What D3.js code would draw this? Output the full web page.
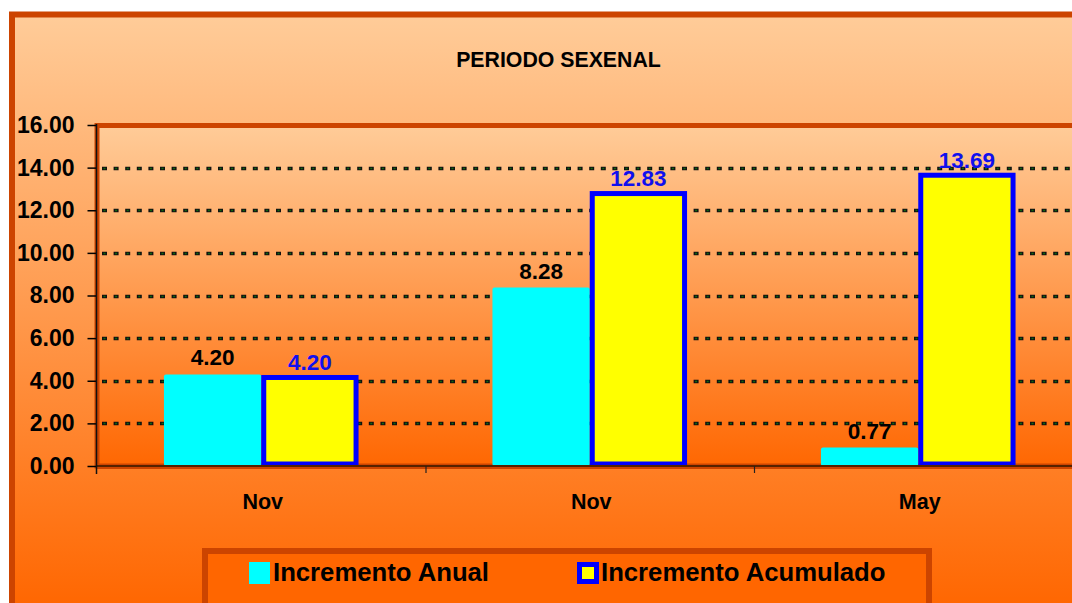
<!DOCTYPE html>
<html>
<head>
<meta charset="utf-8">
<script src="https://cdn.jsdelivr.net/npm/d3@7"></script>
<style>
  body { margin: 0; background: #fff; }
  svg { display: block; font-family: "Liberation Sans", Arial, sans-serif; }
</style>
</head>
<body>
<div id="chart"></div>
<script>
// data
var categories = ["Nov", "Nov", "May"];
var series = ["Incremento Anual", "Incremento Acumulado"];
var anual = [4.20, 8.28, 0.77];
var acumulado = [4.20, 12.83, 13.69];
var yTicks = [0, 2, 4, 6, 8, 10, 12, 14, 16];

var width = 1072,
    height = 603;

var svg = d3.select("#chart").append("svg")
    .attr("width", width)
    .attr("height", height);

var defs = svg.append("defs");

function addGradient(id, y1, y2) {
  var g = defs.append("linearGradient")
      .attr("id", id)
      .attr("gradientUnits", "userSpaceOnUse")
      .attr("x1", 0).attr("x2", 0)
      .attr("y1", y1).attr("y2", y2);
  g.append("stop").attr("offset", "0%").attr("stop-color", "#ffcc99");
  g.append("stop").attr("offset", "100%").attr("stop-color", "#ff6600");
}
addGradient("outerGrad", 15, 610);
addGradient("plotGrad", 125, 470);

// outer chart area
svg.append("rect")
    .attr("x", 12).attr("y", 14.5)
    .attr("width", 1120).attr("height", 640)
    .attr("fill", "url(#outerGrad)")
    .attr("stroke", "#cc4400")
    .attr("stroke-width", 6);

svg.append("text")
    .attr("x", 558.5).attr("y", 67)
    .attr("text-anchor", "middle")
    .attr("font-size", "21.3px")
    .attr("font-weight", "bold")
    .text("PERIODO SEXENAL");

// scales
var x0 = 97, bandW = 328.5;
var y = d3.scaleLinear().domain([0, 16]).range([466, 125]);

var x = d3.scaleBand()
    .domain(d3.range(categories.length))
    .range([x0, x0 + bandW * categories.length])
    .paddingInner(0).paddingOuter(0);

var xs = d3.scaleBand()
    .domain([0, 1])
    .range([0, x.bandwidth()])
    .paddingInner(0).paddingOuter(0.688);

// plot area
svg.append("rect")
    .attr("x", x0).attr("y", 125.5)
    .attr("width", 1100).attr("height", 340.5)
    .attr("fill", "url(#plotGrad)")
    .attr("stroke", "#cc4400")
    .attr("stroke-width", 5);

// dotted grid lines
var gridVals = yTicks.filter(function(d) { return d > 0 && d < 16; });
var grid = svg.append("g");
grid.selectAll(".gl")
    .data(gridVals)
    .enter().append("line")
    .attr("x1", 102).attr("x2", width)
    .attr("y1", function(d) { return Math.round(y(d)) + 0.5; })
    .attr("y2", function(d) { return Math.round(y(d)) + 0.5; })
    .attr("stroke", "#111")
    .attr("stroke-width", 3.5)
    .attr("stroke-dasharray", "5 6.6");
grid.selectAll(".gl2")
    .data(gridVals)
    .enter().append("line")
    .attr("x1", 103.5).attr("x2", width)
    .attr("y1", function(d) { return Math.round(y(d)) + 0.5; })
    .attr("y2", function(d) { return Math.round(y(d)) + 0.5; })
    .attr("stroke", "#0f6a0f")
    .attr("stroke-width", 1.3)
    .attr("stroke-dasharray", "2 9.6");

// bars
var groups = svg.selectAll(".grp")
    .data(categories)
    .enter().append("g")
    .attr("transform", function(d, i) { return "translate(" + x(i) + ",0)"; });

groups.append("rect")
    .attr("x", xs(0))
    .attr("width", xs.bandwidth())
    .attr("y", function(d, i) { return y(anual[i]) - 2; })
    .attr("height", function(d, i) { return 466 - y(anual[i]) + 2; })
    .attr("rx", 2)
    .attr("fill", "#00ffff");

groups.append("rect")
    .attr("x", xs(1) + 2.5)
    .attr("width", xs.bandwidth() - 5)
    .attr("y", function(d, i) { return y(acumulado[i]) + 1; })
    .attr("height", function(d, i) { return 464 - y(acumulado[i]) - 1; })
    .attr("fill", "#ffff00")
    .attr("stroke", "#0000ff")
    .attr("stroke-width", 5);

// value labels
groups.append("text")
    .attr("x", xs(0) + xs.bandwidth() / 2)
    .attr("y", function(d, i) { return y(anual[i]) - 11; })
    .attr("text-anchor", "middle")
    .attr("font-size", "22.5px")
    .attr("font-weight", "bold")
    .attr("fill", "#000")
    .text(function(d, i) { return anual[i].toFixed(2); });

groups.append("text")
    .attr("x", xs(1) + xs.bandwidth() / 2)
    .attr("y", function(d, i) { return y(acumulado[i]) - 6.5; })
    .attr("text-anchor", "middle")
    .attr("font-size", "22.5px")
    .attr("font-weight", "bold")
    .attr("fill", "#1010ee")
    .text(function(d, i) { return acumulado[i].toFixed(2); });

// baseline
svg.append("line")
    .attr("x1", x0).attr("x2", width)
    .attr("y1", 468).attr("y2", 468)
    .attr("stroke", "#cc4400").attr("stroke-width", 2);
svg.append("line")
    .attr("x1", x0).attr("x2", width)
    .attr("y1", 466).attr("y2", 466)
    .attr("stroke", "#552200").attr("stroke-width", 2);

// category ticks
svg.selectAll(".ct")
    .data(d3.range(1, categories.length))
    .enter().append("line")
    .attr("x1", function(d) { return x(d) + 0.5; })
    .attr("x2", function(d) { return x(d) + 0.5; })
    .attr("y1", 466).attr("y2", 473)
    .attr("stroke", "#222").attr("stroke-width", 1.2);

// y axis
var yAxis = d3.axisLeft(y)
    .tickValues(yTicks)
    .tickSize(9)
    .tickPadding(13)
    .tickFormat(d3.format(".2f"));

var ya = svg.append("g")
    .attr("transform", "translate(96.5,0)")
    .call(yAxis);
ya.select(".domain").remove();
ya.selectAll(".tick line").attr("stroke", "#000").attr("stroke-width", 1.5);
ya.selectAll(".tick text")
    .attr("font-family", "'Liberation Sans', Arial, sans-serif")
    .attr("font-size", "23px")
    .attr("font-weight", "bold")
    .attr("fill", "#000");
svg.append("line")
    .attr("x1", 96.5).attr("x2", 96.5)
    .attr("y1", 124).attr("y2", 474)
    .attr("stroke", "#111").attr("stroke-width", 1.5);

// category labels
svg.selectAll(".cl")
    .data(categories)
    .enter().append("text")
    .attr("x", function(d, i) { return x(i) + x.bandwidth() / 2 + 1.5; })
    .attr("y", 509)
    .attr("text-anchor", "middle")
    .attr("font-size", "21.5px")
    .attr("font-weight", "bold")
    .text(function(d) { return d; });

// legend
var legend = svg.append("g");
legend.append("rect")
    .attr("x", 205).attr("y", 551)
    .attr("width", 724).attr("height", 80)
    .attr("fill", "#ff6600")
    .attr("stroke", "#cc4400")
    .attr("stroke-width", 6);

var legX = [249, 577];
legend.append("rect")
    .attr("x", legX[0]).attr("y", 562)
    .attr("width", 21).attr("height", 22)
    .attr("fill", "#00ffff");
legend.append("rect")
    .attr("x", legX[1] + 2.5).attr("y", 564.5)
    .attr("width", 17).attr("height", 17)
    .attr("fill", "#ffff00")
    .attr("stroke", "#0000ff")
    .attr("stroke-width", 5);

legend.selectAll(".lt")
    .data(series)
    .enter().append("text")
    .attr("x", function(d, i) { return legX[i] + 24; })
    .attr("y", 581)
    .attr("font-size", "25.7px")
    .attr("font-weight", "bold")
    .text(function(d) { return d; });
</script>
</body>
</html>
